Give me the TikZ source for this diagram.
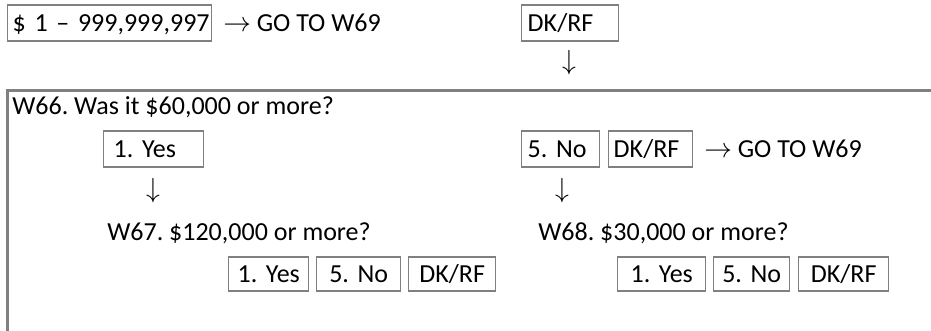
\documentclass[tikz,border=0pt]{standalone}
\usepackage{fontspec}
\setmainfont{Carlito}
\frenchspacing
\definecolor{boxgray}{RGB}{128,128,128}
\tikzset{
  txt/.style={font=\fontsize{19.5}{23}\selectfont, inner sep=0pt, anchor=base west},
  optbox/.style={txt, draw=boxgray, line width=1.1pt, text depth=6.75pt, text height=20.25pt},
  lowbox/.style={optbox, text height=18.75pt, align=center},
  dnarrow/.style={font=\fontsize{19.5}{23}\selectfont, inner sep=0pt, anchor=base},
  frame/.style={draw=boxgray, line width=1.9pt}
}
\begin{document}
\begin{tikzpicture}[x=0.75pt,y=-0.75pt]
\useasboundingbox (0,0) rectangle (931,331);
% top row
\node[optbox, text width=153pt, align=left] (range) at (7,32) {\hspace*{3.75pt}\$ 1 – 999,999,997};
\node[txt] (go1) at (223,32) {$\rightarrow$ GO TO W69};
\node[optbox, text width=72.75pt, align=left] (dktop) at (521,32) {\hspace*{4.5pt}DK/RF};
\node[dnarrow] (dn1) at (569,70) {$\downarrow$};
% frame
\draw[frame] (935,90.5) -- (7.5,90.5) -- (7.5,335);
% W66
\node[txt] (w66) at (12,115) {W66. Was it \$60,000 or more?};
\node[optbox, text width=75pt, align=left] (yes66) at (103,158) {\hspace*{7.5pt}1. Yes};
\node[optbox, text width=58.5pt, align=left] (no66) at (521,158) {\hspace*{4.5pt}5. No};
\node[optbox, text width=63pt, align=left] (dk66) at (608,158) {\hspace*{3.75pt}DK/RF};
\node[txt] (go2) at (704,158) {$\rightarrow$ GO TO W69};
\node[dnarrow] (dn2) at (153,198) {$\downarrow$};
\node[dnarrow] (dn3) at (562,198) {$\downarrow$};
% W67 / W68
\node[txt] (w67) at (107,241) {W67. \$120,000 or more?};
\node[txt] (w68) at (538,241) {W68. \$30,000 or more?};
\node[lowbox, text width=60pt] (yes67) at (228,282) {1. Yes};
\node[lowbox, text width=63pt] (no67) at (316,282) {5. No};
\node[lowbox, text width=65.25pt] (dk67) at (408,282) {DK/RF};
\node[lowbox, text width=66pt] (yes68) at (617,282) {1. Yes};
\node[lowbox, text width=57pt] (no68) at (713,282) {5. No};
\node[lowbox, text width=67.5pt] (dk68) at (798,282) {DK/RF};
\end{tikzpicture}
\end{document}
